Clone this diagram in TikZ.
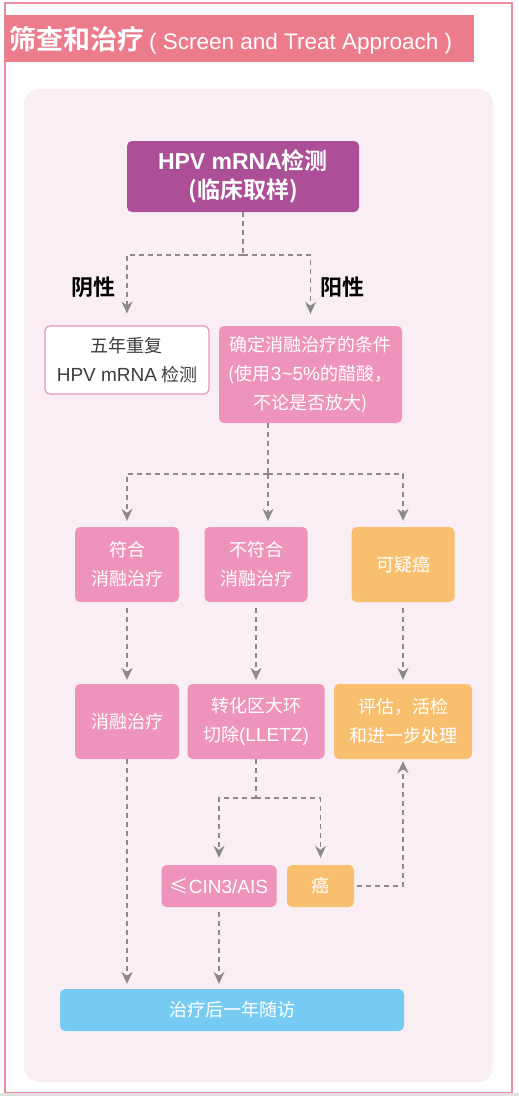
\documentclass[tikz,border=0pt]{standalone}
\usepackage{fontspec}
\setmainfont{Noto Sans CJK SC}
\newfontfamily\cjkb{Noto Sans CJK SC Bold}
\newfontfamily\lat{Liberation Sans}
\newfontfamily\latb{Liberation Sans Bold}
\usetikzlibrary{arrows.meta}
\definecolor{titlepink}{HTML}{EC7B8B}
\definecolor{framepink}{HTML}{E98C9B}
\definecolor{panel}{HTML}{F8EEF4}
\definecolor{purplebox}{HTML}{AD4F96}
\definecolor{pinkbox}{HTML}{EE93BA}
\definecolor{orangebox}{HTML}{F8BF6F}
\definecolor{bluebox}{HTML}{77CBF2}
\definecolor{conncol}{HTML}{8A8A8A}
\definecolor{darktext}{HTML}{3C3C3C}
\newcommand{\latx}[1]{{\lat\fontsize{19}{29}\selectfont #1}}
\tikzset{
  box/.style={rounded corners=5pt, inner sep=0pt, text=white, align=center,
    font=\fontsize{18}{29}\selectfont},
  conn/.style={draw=conncol, line width=1.3pt, dash pattern=on 5pt off 4pt,
    -{Stealth[length=12pt,width=11pt,inset=4pt]}},
  plain/.style={draw=conncol, line width=1.3pt, dash pattern=on 5pt off 4pt},
}
\begin{document}
\begin{tikzpicture}[x=1pt,y=-1pt]
\useasboundingbox (0,0) rectangle (519,1096);
\fill[white] (0,0) rectangle (519,1096);
\fill[black!12] (0,1093) rectangle (519,1096);
\draw[framepink, line width=1.2pt] (5,3) rectangle (512,1092.5);
% title
\fill[titlepink] (5,15) rectangle (474,62);
\node[anchor=west, inner sep=0pt, text=white] (title) at (9,40)
  {{\cjkb\fontsize{27}{27}\selectfont 筛查和治疗}\hspace{5pt}{\lat\fontsize{22.5}{22.5}\selectfont ( Screen and Treat Approach )}};
% panel
\fill[panel, rounded corners=15pt] (24,89) rectangle (493,1082);

% nodes
\node[box, fill=purplebox, minimum width=232pt, minimum height=71pt,
  font=\cjkb\fontsize{23}{29}\selectfont] (hpv) at (243,176.5)
  {{\latb HPV mRNA}检测\\({\fontsize{23}{29}\selectfont 临床取样})};
\node[box, fill=white, draw=pinkbox, line width=1.2pt, text=darktext,
  minimum width=164pt, minimum height=68pt] (neg) at (127,360) {五年重复\\\latx{HPV mRNA} 检测};
\node[box, fill=pinkbox, minimum width=183pt, minimum height=97pt] (cond) at (310.5,374.5)
  {确定消融治疗的条件\\(使用\latx{3\char"7E 5\%}的醋酸，\\不论是否放大)};
\node[font=\cjkb\fontsize{22}{22}\selectfont, text=black, inner sep=0pt] (lneg) at (93,287) {阴性};
\node[font=\cjkb\fontsize{22}{22}\selectfont, text=black, inner sep=0pt] (lpos) at (342,287) {阳性};

\node[box, fill=pinkbox, minimum width=104pt, minimum height=75pt] (fit) at (127,564.5) {符合\\消融治疗};
\node[box, fill=pinkbox, minimum width=103pt, minimum height=75pt] (unfit) at (256,564.5) {不符合\\消融治疗};
\node[box, fill=orangebox, minimum width=103pt, minimum height=75pt] (susp) at (403,564.5) {可疑癌};

\node[box, fill=pinkbox, minimum width=104pt, minimum height=75pt] (abl) at (127,721.5) {消融治疗};
\node[box, fill=pinkbox, minimum width=137pt, minimum height=75pt] (lletz) at (256,721.5) {转化区大环\\切除\latx{(LLETZ)}};
\node[box, fill=orangebox, minimum width=138pt, minimum height=75pt] (eval) at (403,721.5) {评估，活检\\和进一步处理};

\node[box, fill=pinkbox, minimum width=115pt, minimum height=42pt] (cin) at (219,886) {{\fontsize{19}{29}\selectfont ≤}\latx{CIN3/AIS}};
\node[box, fill=orangebox, minimum width=67pt, minimum height=42pt] (ca) at (320.5,886) {癌};

\node[box, fill=bluebox, minimum width=344pt, minimum height=42pt] (fu) at (232,1010) {治疗后一年随访};

% connectors
\coordinate (j1) at (243,255);
\draw[plain] (hpv.south) -- (j1);
\draw[conn, shorten >=12pt] (j1) -| (neg.north);
\draw[conn, shorten >=12pt] (j1) -| (cond.north);

\coordinate (j2) at (268,474);
\draw[plain] (cond.south -| j2) -- (j2);
\draw[conn, shorten >=6pt] (j2) -| (fit.north);
\draw[conn, shorten >=6pt] (j2) -- (unfit.north -| j2);
\draw[conn, shorten >=6pt] (j2) -| (susp.north);

\draw[conn, shorten <=6pt, shorten >=4pt] (fit.south) -- (abl.north);
\draw[conn, shorten <=6pt, shorten >=4pt] (unfit.south) -- (lletz.north);
\draw[conn, shorten <=6pt, shorten >=4pt] (susp.south) -- (eval.north);

\coordinate (j3) at (256,798);
\draw[plain] (lletz.south) -- (j3);
\draw[conn, shorten >=7pt] (j3) -| (cin.north);
\draw[conn, shorten >=7pt] (j3) -| (ca.north);

\draw[conn, shorten <=3pt, shorten >=2pt] (ca.east) -| (eval.south);

\draw[conn, shorten >=5pt] (abl.south) -- (abl.south |- fu.north);
\draw[conn, shorten <=5pt, shorten >=5pt] (cin.south) -- (cin.south |- fu.north);
\end{tikzpicture}
\end{document}
